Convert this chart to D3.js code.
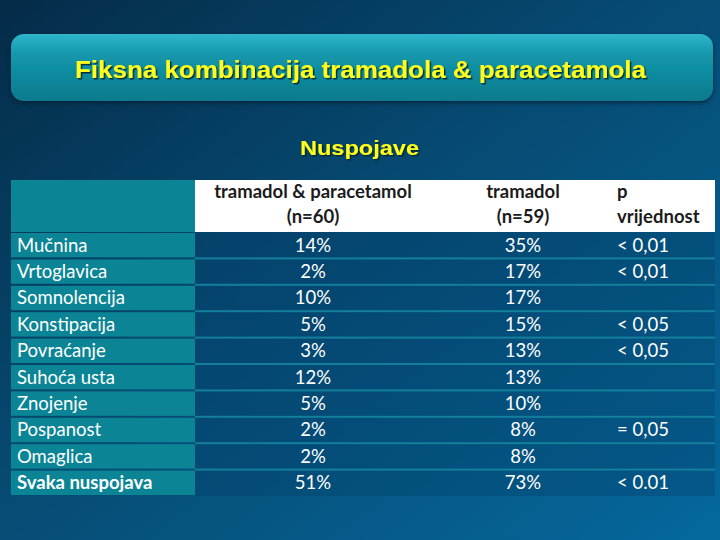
<!DOCTYPE html>
<html>
<head>
<meta charset="utf-8">
<script src="https://cdn.jsdelivr.net/npm/d3@7"></script>
<style>
  html, body { margin: 0; padding: 0; background: #053050; }
  svg { display: block; }
</style>
</head>
<body>
<div id="chart"></div>
<script>
var width = 720,
  height = 540;

var title = "Fiksna kombinacija tramadola & paracetamola";
var subtitle = "Nuspojave";

var headers = [
  ["tramadol & paracetamol", "(n=60)"],
  ["tramadol", "(n=59)"],
  ["p", "vrijednost"],
];
var effects = [
  "Mučnina",
  "Vrtoglavica",
  "Somnolencija",
  "Konstipacija",
  "Povraćanje",
  "Suhoća usta",
  "Znojenje",
  "Pospanost",
  "Omaglica",
  "Svaka nuspojava",
];
var combo = ["14%", "2%", "10%", "5%", "3%", "12%", "5%", "2%", "2%", "51%"];
var tramadol = ["35%", "17%", "17%", "15%", "13%", "13%", "10%", "8%", "8%", "73%"];
var pvalues = ["< 0,01", "< 0,01", "", "< 0,05", "< 0,05", "", "", "= 0,05", "", "< 0.01"];

var svg = d3
  .select("#chart")
  .append("svg")
  .attr("width", width)
  .attr("height", height);

var defs = svg.append("defs");

var bg = defs
  .append("linearGradient")
  .attr("id", "bg")
  .attr("x1", "0%")
  .attr("y1", "0%")
  .attr("x2", "100%")
  .attr("y2", "100%");
bg.append("stop").attr("offset", "0%").attr("stop-color", "#042b48");
bg.append("stop").attr("offset", "45%").attr("stop-color", "#064a72");
bg.append("stop").attr("offset", "100%").attr("stop-color", "#05689c");

var titleGrad = defs
  .append("linearGradient")
  .attr("id", "titlebg")
  .attr("x1", "0%")
  .attr("y1", "0%")
  .attr("x2", "0%")
  .attr("y2", "100%");
titleGrad.append("stop").attr("offset", "0%").attr("stop-color", "#2fb6cc");
titleGrad.append("stop").attr("offset", "30%").attr("stop-color", "#1497ab");
titleGrad.append("stop").attr("offset", "100%").attr("stop-color", "#097a8d");

var shadow = defs.append("filter").attr("id", "shadow");
shadow
  .append("feDropShadow")
  .attr("dx", 1.5)
  .attr("dy", 1.5)
  .attr("stdDeviation", 0.6)
  .attr("flood-color", "#02202e")
  .attr("flood-opacity", 0.9);

var boxShadow = defs.append("filter").attr("id", "boxshadow");
boxShadow
  .append("feDropShadow")
  .attr("dx", 0)
  .attr("dy", 2)
  .attr("stdDeviation", 2)
  .attr("flood-color", "#011a2a")
  .attr("flood-opacity", 0.7);

svg.append("rect").attr("width", width).attr("height", height).attr("fill", "url(#bg)");

// title box
svg
  .append("rect")
  .attr("x", 11)
  .attr("y", 34)
  .attr("width", 702)
  .attr("height", 67)
  .attr("rx", 13)
  .attr("fill", "url(#titlebg)")
  .attr("filter", "url(#boxshadow)");

svg
  .append("text")
  .attr("x", 75)
  .attr("y", 78)
  .attr("font-family", "Liberation Sans, Arial, sans-serif")
  .attr("font-weight", "bold")
  .attr("font-size", 24)
  .attr("textLength", 571)
  .attr("lengthAdjust", "spacingAndGlyphs")
  .attr("fill", "#ffff1a")
  .attr("filter", "url(#shadow)")
  .text(title);

svg
  .append("text")
  .attr("x", 300)
  .attr("y", 155)
  .attr("font-family", "Liberation Sans, Arial, sans-serif")
  .attr("font-weight", "bold")
  .attr("font-size", 20.5)
  .attr("textLength", 119)
  .attr("lengthAdjust", "spacingAndGlyphs")
  .attr("fill", "#ffff1a")
  .attr("filter", "url(#shadow)")
  .text(subtitle);

// table
var tableLeft = 11,
  splitX = 195,
  tableRight = 715,
  headTop = 180,
  headBottom = 232,
  bodyBottom = 496;

var y = d3.scaleBand().domain(effects).range([headBottom, bodyBottom]);

var font = "Lato, 'Open Sans', sans-serif";
var fs = 18.5;

// header
svg
  .append("rect")
  .attr("x", tableLeft)
  .attr("y", headTop)
  .attr("width", splitX - tableLeft)
  .attr("height", headBottom - headTop)
  .attr("fill", "#0b8596");
svg
  .append("rect")
  .attr("x", splitX)
  .attr("y", headTop)
  .attr("width", tableRight - splitX)
  .attr("height", headBottom - headTop)
  .attr("fill", "#ffffff");

var colX = [313, 523, 617];
var colAnchor = ["middle", "middle", "start"];

headers.forEach(function (h, i) {
  var t = svg
    .append("text")
    .attr("x", colX[i])
    .attr("y", 198)
    .attr("text-anchor", colAnchor[i])
    .attr("font-family", font)
    .attr("font-weight", "bold")
    .attr("font-size", fs)
    .attr("fill", "#1b1b1b");
  t.append("tspan").attr("x", colX[i]).attr("dy", 0).text(h[0]);
  t.append("tspan").attr("x", colX[i]).attr("dy", 25).text(h[1]);
});

// body rows
var rows = svg
  .append("g")
  .selectAll("g")
  .data(effects)
  .enter()
  .append("g")
  .attr("transform", function (d) {
    return "translate(0," + y(d) + ")";
  });

rows
  .append("rect")
  .attr("x", splitX)
  .attr("y", 0)
  .attr("width", tableRight - splitX)
  .attr("height", y.bandwidth())
  .attr("fill", "#04406a")
  .attr("fill-opacity", 0.35);

rows
  .append("rect")
  .attr("x", tableLeft)
  .attr("y", 1)
  .attr("width", splitX - tableLeft)
  .attr("height", y.bandwidth() - 2)
  .attr("fill", "#0b8596");

rows
  .filter(function (d, i) {
    return i > 0;
  })
  .append("rect")
  .attr("x", splitX)
  .attr("y", -1)
  .attr("width", tableRight - splitX)
  .attr("height", 2)
  .attr("fill", "#137f9c");

rows
  .append("text")
  .attr("x", 17)
  .attr("y", y.bandwidth() / 2 + 6.5)
  .attr("font-family", font)
  .attr("font-size", fs)
  .attr("font-weight", function (d, i) {
    return i === effects.length - 1 ? "bold" : "normal";
  })
  .attr("fill", "#ffffff")
  .text(function (d) {
    return d;
  });

var cols = [combo, tramadol, pvalues];
cols.forEach(function (values, c) {
  rows
    .append("text")
    .attr("x", colX[c])
    .attr("y", y.bandwidth() / 2 + 6.5)
    .attr("text-anchor", colAnchor[c])
    .attr("font-family", font)
    .attr("font-size", fs)
    .attr("fill", "#ffffff")
    .text(function (d, i) {
      return values[i];
    });
});
</script>
</body>
</html>
